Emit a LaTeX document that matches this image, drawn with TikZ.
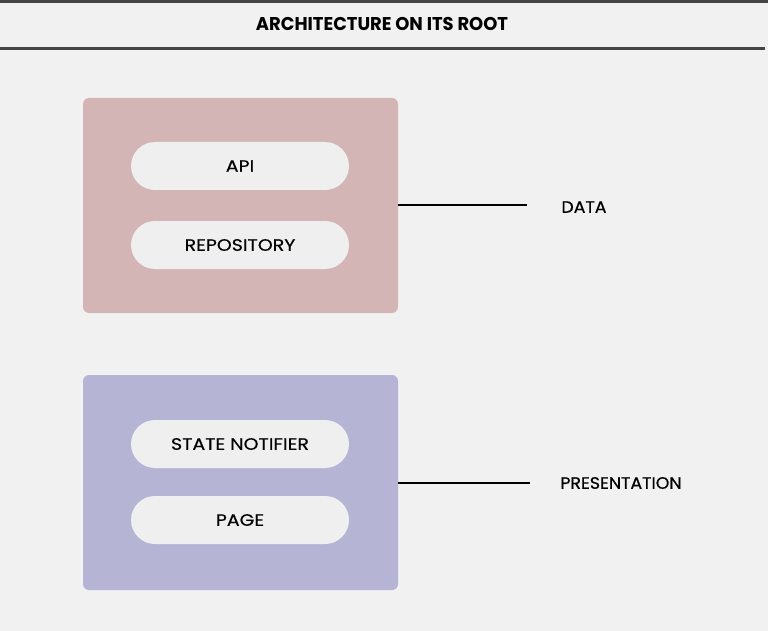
\documentclass[tikz,border=0pt]{standalone}
\usepackage{fontspec}
\setmainfont{Poppins}
\newfontfamily\pillfont[FakeStretch=1.15,FakeBold=0.3]{Poppins}
\newfontfamily\lblfont[FakeStretch=1.05,FakeBold=0.6]{Poppins}
\newfontfamily\titlefont[FakeStretch=0.97]{Poppins}
\definecolor{bg}{HTML}{F1F1F1}
\definecolor{rule}{HTML}{444444}
\definecolor{datab}{HTML}{D4B5B6}
\definecolor{presb}{HTML}{B5B4D5}
\definecolor{pill}{HTML}{EFEFEF}
\usetikzlibrary{shapes.misc}
\tikzset{
  layerbox/.style={rounded corners=6pt, minimum width=315pt, minimum height=215pt, inner sep=0pt},
  pillbox/.style={rounded rectangle, fill=pill, minimum width=218pt, minimum height=48pt, inner sep=0pt, font=\pillfont\fontsize{16.5}{18}\selectfont},
  lbl/.style={font=\lblfont\fontsize{16.5}{18}\selectfont, anchor=center},
  conn/.style={line width=1.6pt, black},
}
\begin{document}
\begin{tikzpicture}[x=1pt,y=-1pt]
\useasboundingbox (0,0) rectangle (768,631);
\fill[bg] (0,0) rectangle (768,631);
\fill[rule] (0,0) rectangle (768,3);
\fill[rule] (0,47) rectangle (765,50);
\node[font=\titlefont\bfseries\fontsize{18.5}{20}\selectfont] (title) at (382,24) {ARCHITECTURE ON ITS ROOT};
\node[layerbox, fill=datab] (data) at (240.5,205.5) {};
\node[pillbox] (api) at (240,166) {API};
\node[pillbox] (repo) at (240,245) {REPOSITORY};
\node[layerbox, fill=presb] (pres) at (240.5,482.5) {};
\node[pillbox] (sn) at (240,444) {STATE NOTIFIER};
\node[pillbox] (page) at (240,520) {PAGE};
\coordinate (dend) at (527,205);
\coordinate (pend) at (530,483);
\node[lbl] (datal) at (584,207) {DATA};
\node[lbl] (presl) at (621,483) {PRESENTATION};
\draw[conn] (data.east |- dend) -- (dend);
\draw[conn] (pres.east |- pend) -- (pend);
\end{tikzpicture}
\end{document}
